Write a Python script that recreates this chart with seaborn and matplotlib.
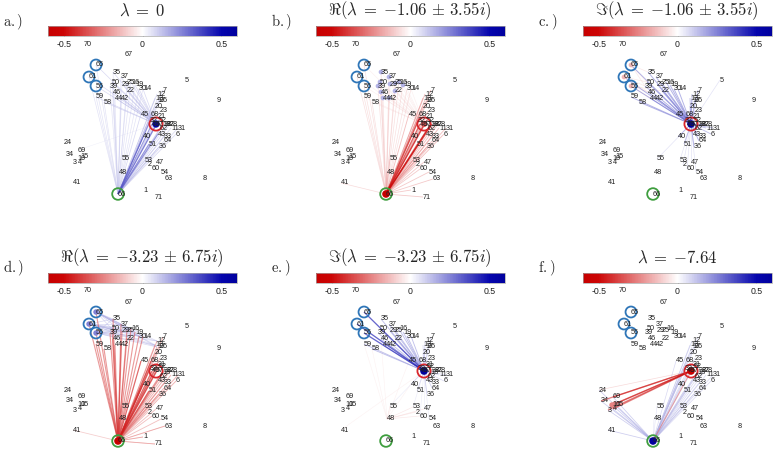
import numpy as np
import pandas as pd
import matplotlib
matplotlib.use('Agg')
import matplotlib.pyplot as plt
import seaborn as sns
from matplotlib.collections import LineCollection
from matplotlib.colors import LinearSegmentedColormap, Normalize
from matplotlib.cm import ScalarMappable

sns.set_theme(style='white')
plt.rcParams['font.family'] = ['Liberation Sans', 'DejaVu Sans']
plt.rcParams['mathtext.fontset'] = 'cm'
plt.rcParams['axes.unicode_minus'] = False

# node layout (same in every panel), node i+1 -> (x, y)
node_x = [143, 148, 73, 78, 185, 176, 163, 203, 217, 77,
          171, 157, 155, 143, 80, 131, 157, 162, 135, 155,
          158, 127, 160, 64, 127, 160, 167, 170, 122, 139,
          178, 150, 164, 66, 113, 159, 121, 164, 110, 143,
          73, 121, 158, 115, 141, 113, 156, 119, 152, 112,
          149, 159, 145, 161, 122, 96, 156, 104, 96, 152,
          89, 160, 165, 164, 96, 118, 125, 151, 78, 84, 155]
node_y = [190, 165, 163, 162, 80, 134, 90, 179, 101, 158,
          128, 94, 98, 89, 157, 82, 100, 125, 85, 106,
          117, 91, 111, 143, 83, 100, 124, 124, 84, 89,
          128, 121, 136, 154, 72, 147, 77, 124, 86, 137,
          183, 98, 134, 98, 114, 92, 162, 172, 124, 82,
          144, 120, 160, 172, 159, 86, 124, 102, 97, 169,
          77, 129, 179, 141, 65, 194, 55, 114, 150, 44, 197]
node_ids = list(range(1, 72))

# node groups
upper = [65, 61, 56, 35, 37, 50, 39, 29, 25, 16, 19, 30, 14, 46, 44, 42, 22, 59, 58]
right = [12, 7, 13, 17, 26, 20, 23, 45, 68, 21, 52, 32, 49, 18, 38, 27, 28, 11, 31,
         62, 6, 43, 33, 64, 36, 40, 51]
lower = [55, 53, 47, 2, 60, 54, 48, 63, 1, 71]
left = [24, 69, 34, 10, 15, 3, 4, 41]
hub_near = [57, 49, 32, 52, 18, 38, 62]
top_right = [35, 37, 50, 29, 25, 16, 19, 30, 14, 12, 13, 17]

titles = [r'$\lambda\;=\;0$',
          r'$\Re(\lambda\;=\;{-1.06}\,\pm\,3.55i)$',
          r'$\Im(\lambda\;=\;{-1.06}\,\pm\,3.55i)$',
          r'$\Re(\lambda\;=\;{-3.23}\,\pm\,6.75i)$',
          r'$\Im(\lambda\;=\;{-3.23}\,\pm\,6.75i)$',
          r'$\lambda\;=\;{-7.64}$']
letters = ['a.)', 'b.)', 'c.)', 'd.)', 'e.)', 'f.)']

# edge groups: (source, targets, value)
edges_a = [(66, upper, 0.12), (66, right, 0.16), (66, [57, 49, 52, 32, 40, 51, 43], 0.35),
           (57, upper, 0.15), (57, [69], 0.06)]
edges_b = [(66, hub_near, -0.5), (66, right, -0.25), (66, upper, -0.13),
           (66, lower, -0.22), (66, [41], -0.15), (57, upper, -0.07)]
edges_c = [(57, upper, 0.3), (57, right, 0.25), (57, [55, 53, 47, 2, 60, 54, 36, 64], 0.12),
           (57, [5], 0.12), (65, [35, 50, 39], -0.1), (61, [39, 50, 46], -0.1),
           (56, [46, 44, 22], -0.1)]
edges_d = [(66, upper, -0.4), (66, [57, 49, 32, 52, 40, 51, 45, 68, 21], -0.45),
           (66, right, -0.3), (66, lower, -0.25), (66, [41, 1, 71, 63], -0.2),
           (65, top_right, 0.15), (61, top_right, 0.15), (56, top_right, 0.15)]
edges_e = [(57, [65, 61, 56], 0.5), (57, upper, 0.25), (57, right, 0.15),
           (57, [55, 53, 47, 60, 54, 36, 64], 0.08), (48, [53, 2, 60, 47, 55], -0.1),
           (48, [40, 45, 59, 58, 46], -0.06), (41, [57], -0.06)]
edges_f = [(57, [10, 15, 3, 4, 69, 34], -0.5), (57, [66], -0.35), (57, [24], -0.15),
           (66, [10, 15, 3, 4, 34, 24, 69, 41], 0.2), (66, right, 0.15),
           (66, [40, 51, 55, 48], 0.1)]
panel_edges = [edges_a, edges_b, edges_c, edges_d, edges_e, edges_f]

# node colour values
nodes_a = {57: 0.55}
nodes_b = {66: -0.6, 57: -0.35, 35: 0.15, 37: 0.15, 50: 0.15, 39: 0.15, 29: 0.15,
           25: 0.15, 16: 0.15, 19: 0.15, 46: 0.15, 44: 0.15, 42: 0.15, 22: 0.15}
nodes_c = {57: 0.6, 65: -0.15, 61: -0.15, 56: -0.15}
nodes_d = {66: -0.6, 65: 0.25, 61: 0.25, 56: 0.25}
nodes_e = {57: 0.6}
nodes_f = {57: -0.6, 66: 0.6, 10: -0.25, 15: -0.25}
panel_nodes = [nodes_a, nodes_b, nodes_c, nodes_d, nodes_e, nodes_f]

blue_ring = [65, 61, 56]
red_ring = [57]
green_ring = [66]

cmap = LinearSegmentedColormap.from_list(
    'rwb', [(0.0, (0.78, 0.0, 0.0)), (0.08, (0.80, 0.02, 0.02)), (0.5, (1, 1, 1)),
            (0.92, (0.02, 0.02, 0.68)), (1.0, (0.0, 0.0, 0.62))])
norm = Normalize(-0.6, 0.6)

W, H = 777, 454
fig = plt.figure(figsize=(W / 100, H / 100), dpi=100)


def box(x0, y0, x1, y1):
    return [x0 / W, 1 - y1 / H, (x1 - x0) / W, (y1 - y0) / H]


pos = {n: (x, y) for n, x, y in zip(node_ids, node_x, node_y)}
col_dx = [0, 268, 535]
row_dy = [0, 247]
letter_y = [22, 268]

for k in range(6):
    r, c = divmod(k, 3)
    dx, dy = col_dx[c], row_dy[r]

    ax = fig.add_axes(box(40 + dx, 40 + dy, 240 + dx, 205 + dy))
    ax.set_xlim(40, 240)
    ax.set_ylim(205, 40)
    ax.axis('off')

    segs, vals = [], []
    for src, tgts, v in panel_edges[k]:
        for t in tgts:
            if t == src:
                continue
            segs.append([pos[src], pos[t]])
            vals.append(v)
    order = np.argsort(np.abs(vals))
    segs = [segs[i] for i in order]
    vals = np.array(vals)[order]
    lc = LineCollection(segs, cmap=cmap, norm=norm,
                        linewidths=0.3 + 1.3 * np.abs(vals), alpha=0.5, zorder=1)
    lc.set_array(vals)
    ax.add_collection(lc)

    nd = pd.DataFrame({'x': node_x, 'y': node_y, 'id': node_ids})
    nd['v'] = [panel_nodes[k].get(n, 0.0) for n in node_ids]
    nd['s'] = nd['v'].abs()
    nd = nd[nd['s'] > 0]
    sns.scatterplot(data=nd, x='x', y='y', hue='v', palette=cmap, hue_norm=norm,
                    size='s', sizes=(5, 30), size_norm=(0, 0.6), edgecolor='none',
                    legend=False, ax=ax, zorder=3)

    for ring, col, s in [(blue_ring, '#2f76b8', 62), (red_ring, '#d9262c', 90),
                         (green_ring, '#3f9e3f', 70)]:
        rd = pd.DataFrame({'x': [pos[n][0] for n in ring], 'y': [pos[n][1] for n in ring]})
        sns.scatterplot(data=rd, x='x', y='y', s=s, facecolor='none', edgecolor=col,
                        linewidth=1.3, ax=ax, zorder=4)
    ax.set_xlabel('')
    ax.set_ylabel('')

    for n in node_ids:
        ax.text(pos[n][0], pos[n][1], str(n), fontsize=5.2, color='#202020',
                ha='left', va='center', zorder=5, clip_on=False)

    cax = fig.add_axes(box(48 + dx, 26 + dy, 237 + dx, 36 + dy))
    sm = ScalarMappable(norm=norm, cmap=cmap)
    cb = fig.colorbar(sm, cax=cax, orientation='horizontal', ticks=[-0.5, 0, 0.5])
    cb.ax.set_xticklabels(['-0.5', '0', '0.5'])
    cb.ax.tick_params(labelsize=6.3, length=2, width=0.5, color='0.4',
                      direction='in', pad=3, labelcolor='#202020')
    cb.outline.set_edgecolor('0.65')
    cb.outline.set_linewidth(0.5)

    fig.text((142 + dx) / W, 1 - (11 + dy) / H, titles[k], fontsize=12,
             ha='center', va='center')
    fig.text((3 + col_dx[c]) / W, 1 - letter_y[r] / H, r'$\mathrm{%s}$' % letters[k],
             fontsize=10.5, ha='left', va='center')

fig.savefig('out.png', dpi=100)
